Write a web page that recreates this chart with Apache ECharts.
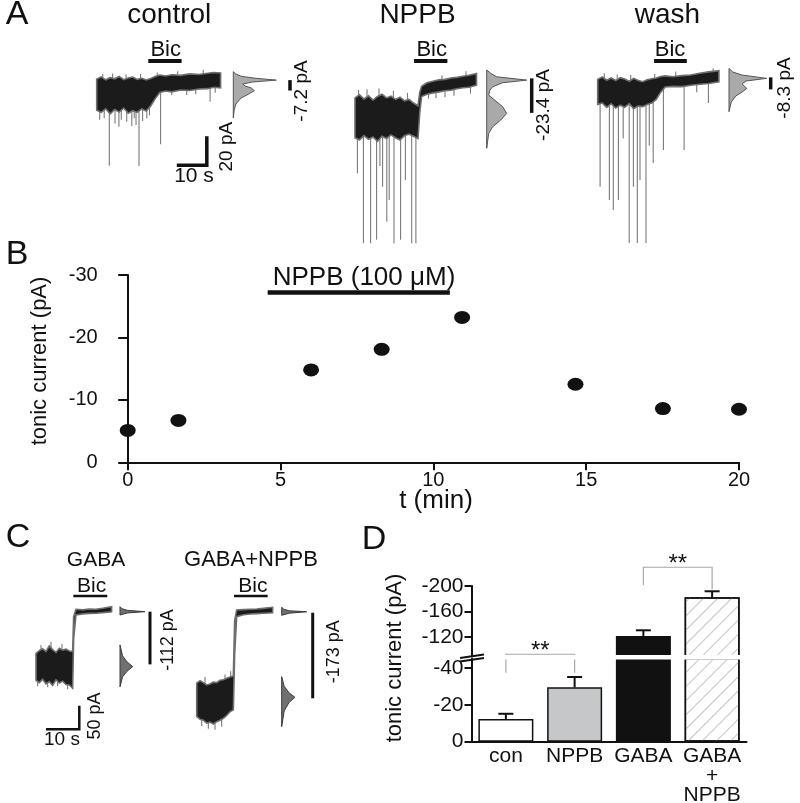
<!DOCTYPE html>
<html>
<head>
<meta charset="utf-8">
<title>NPPB and tonic GABA current</title>
<script src="https://cdn.jsdelivr.net/npm/echarts@6/dist/echarts.min.js"></script>
<style>
  html, body { margin: 0; padding: 0; background: #fff; }
  #main { width: 800px; height: 803px; }
</style>
</head>
<body>
<div id="main"></div>
<script>
// ---------- data ----------
// A: example traces (t in s, current in pA, 0 = level in Bic)
var ctlT   = [0, 1.5, 3, 4.5, 6, 7.5, 9, 10.5, 12, 13.5, 15, 16.5, 18, 19.5, 21, 23, 25, 28, 31, 34, 37, 39, 41.3];
var ctlTop = [1.0, 2.5, 0.5, 2.0, 1.2, 2.8, 0.6, 1.8, 2.4, 0.8, 1.6, 0.4, 1.5, 2.8, 3.8, 3.2, 4.0, 3.6, 4.6, 4.2, 5.0, 5.6, 5.2];
var ctlBot = [-20.5, -22.0, -19.5, -23.0, -20.0, -21.8, -19.0, -22.5, -20.8, -22.0, -19.6, -21.0, -17.5, -12.5, -8.2, -7.2, -7.8, -6.5, -6.9, -5.8, -5.6, -4.6, -5.0];
var ctlSpikes = [[1.0, -27], [2.5, -26], [4.2, -58.8], [6.1, -29.6], [7.4, -31.9], [8.2, -27], [10, -28.4], [11.7, -31.4],
                 [12.5, -26], [13.1, -30.7], [14.1, -59], [15.3, -28], [16.7, -26.1], [17.6, -24], [21.3, -43.9],
                 [25, -10], [30, -10], [33, -9.5], [37.8, -14.6], [39.5, -8.5],
                 [2.0, 4.5], [5.3, 4.8], [9.8, 4.2], [14.6, 4.6], [20.2, 5.5], [27, 6.5], [35.5, 7.5]];
var ctlHist = [[6.1, 0], [4.5, 6], [2.8, 20], [1.5, 55], [0.3, 100], [-1.0, 45], [-2.4, 22], [-3.8, 28], [-5.2, 42],
               [-7.0, 49], [-9.3, 36], [-12.1, 18], [-16.2, 6], [-20.4, 2], [-25.9, 0]];

var nppT   = [0, 1.5, 3, 4.5, 6, 7.5, 9, 10.5, 12, 13.5, 15, 16.5, 18, 19.5, 21, 21.6, 22.2, 24, 26, 28, 30, 32, 34, 36, 38, 40.5];
var nppTop = [-12.0, -9.8, -12.8, -10.5, -13.5, -11.0, -9.5, -12.0, -10.8, -13.0, -11.5, -14.0, -13.0, -15.5, -17.5, -8.0, -4.0, -1.5, -0.5, 0.5, 0.8, 1.8, 2.2, 3.0, 3.6, 4.8];
var nppBot = [-39.5, -41.0, -38.0, -40.5, -39.0, -42.0, -38.5, -40.0, -37.5, -39.5, -41.0, -38.0, -37.0, -38.5, -40.0, -22.0, -11.0, -9.5, -8.5, -7.8, -7.0, -6.6, -5.6, -5.0, -4.6, -3.2];
var nppSpikes = [[0.8, -64], [2.8, -112.4], [5.2, -112.4], [7.2, -110], [8.3, -59], [9.2, -73.3], [10.6, -97.5],
                 [11.4, -82.5], [13, -112.4], [15.2, -110], [16.8, -68.7], [18.9, -112.4], [20.3, -112.4],
                 [24.5, -12.5], [27, -12], [30, -11.5], [33, -10.5], [38.5, -9],
                 [1.2, -6.5], [4.0, -6.0], [8.0, -5.5], [12.8, -7.0], [17.5, -8.5], [29, 3.5], [37, 6.5]];
var nppHist = [[7.3, 0], [5.0, 10], [2.6, 25], [0.3, 100], [-1.5, 40], [-4.3, 15], [-6.6, 8], [-10.0, 5], [-13.5, 20],
               [-18.1, 40], [-22.7, 50], [-27.3, 35], [-31.9, 15], [-36.5, 5], [-46.8, 0]];

var washT   = [0, 1.5, 3, 4.5, 6, 7.5, 9, 10.5, 12, 13.5, 15, 16.5, 18, 19.5, 21, 22.5, 25, 28, 31, 34, 37, 40.4];
var washTop = [0.8, 2.5, 0.2, 1.8, 0.0, 2.0, 1.0, -0.5, 1.5, 0.0, -0.8, 0.6, 1.2, 1.8, 2.8, 3.2, 2.6, 3.4, 3.8, 5.0, 6.0, 6.8];
var washBot = [-16.5, -15.5, -18.5, -16.0, -19.0, -17.0, -18.5, -16.0, -19.5, -17.5, -18.0, -16.5, -15.5, -13.0, -8.0, -4.5, -4.0, -4.2, -3.2, -2.5, -2.0, -0.8];
var washSpikes = [[0.8, -73.3], [3.9, -82.5], [5.2, -89.4], [6.9, -82.5], [8.5, -40], [10.5, -112.2], [11.9, -73.3],
                  [13.2, -112.2], [14.1, -68.7], [16.1, -112.2], [17.2, -45], [18.5, -57], [21.9, -48], [28.8, -48],
                  [33, -8], [36.9, -15.5],
                  [2.2, 5.0], [6.5, 4.2], [11, 3.8], [19, 4.6], [26, 6.2], [38.5, 8.5]];
var washHist = [[8.4, 0], [5.9, 10], [3.8, 35], [1.5, 100], [-0.3, 45], [-2.4, 35], [-5.4, 47], [-7.9, 35],
                [-10.7, 18], [-14.8, 6], [-21.5, 0]];

// amplitude marks next to the histograms (pA)
var ctlShift = [0.3, -6.9];
var nppShift = [1.5, -22.3];
var washShift = [2.2, -6.1];

// C: GABA traces
var gabT   = [0, 1, 2, 3, 4, 5, 6, 7, 8, 9, 10, 11, 11.3, 12, 14, 16, 18, 20, 22.7];
var gabTop = [-90, -84, -80, -86, -74, -82, -88, -79, -83, -81, -85, -86, -12, 3.7, 2.5, 4.5, 4.0, 6.0, 9.3];
var gabBot = [-147, -152, -145, -155, -150, -158, -146, -153, -149, -156, -157, -164, -60, -8.4, -6.0, -5.0, -4.5, -3.4, -1.3];
var gabSpikes = [[0.5, -160], [3.5, -162], [6.5, -160], [9.5, -166], [1.5, -72], [4.5, -66], [7.8, -70]];
var gabHistHi = [[9.3, 0], [5, 8], [1.5, 30], [-1.3, 100], [-4, 30], [-8.4, 0]];
var gabHistLo = [[-72, 0], [-95, 10], [-108, 28], [-118, 51], [-128, 28], [-140, 10], [-161, 0]];
var gabShift = [-1.3, -113.3];

var gnT   = [0, 1, 2, 3, 4, 5, 6, 7, 8, 9, 10, 11, 11.4, 12, 14, 16, 18, 20, 22.8];
var gnTop = [-153, -148, -152, -157, -155, -151, -152, -147, -146, -143, -140, -138, -20, 2.2, 3.0, 3.7, 4.5, 5.8, 8.0];
var gnBot = [-224, -230, -232, -238, -236, -240, -235, -232, -228, -222, -214, -210, -90, -12, -8.0, -6.3, -5.5, -4.8, -3.5];
var gnSpikes = [[1.5, -245], [3.5, -250], [5.5, -252], [7.5, -246], [2.5, -140], [8.5, -135], [10.2, -128]];
var gnHistHi = [[8, 0], [4, 8], [0.5, 30], [-1.5, 100], [-4.5, 30], [-9, 0]];
var gnHistLo = [[-139.5, 0], [-160, 10], [-174, 30], [-183.3, 53], [-194, 30], [-212, 10], [-245.7, 0]];
var gnShift = [-3.5, -185.4];

// B: tonic current vs time
var timeMin = [0, 1.66, 6, 8.31, 10.94, 14.65, 17.51, 20];
var tonicPA = [-5.1, -6.7, -14.8, -18.1, -23.2, -12.5, -8.6, -8.5];
var nppbOn = [4.58, 10.54];

// D: group means and SEM
var groups = ['con', 'NPPB', 'GABA', 'GABA\n+\nNPPB'];
var meanPA = [-12.3, -29.4, -121.4, -182.3];
var semPA  = [2.8, 5.6, 9.0, 9.4];
var lowTicks = [0, -20, -40];
var highTicks = [-120, -160, -200];

// ---------- helpers ----------
var FONT = '"Liberation Sans", Arial, Helvetica, sans-serif';
var INK = '#111';
var grids = [], xAxes = [], yAxes = [], series = [];

function addGrid(g, x, y) {
  g.outerBoundsMode = 'none';
  g.containLabel = false;
  grids.push(g);
  var i = grids.length - 1;
  x.gridIndex = i; y.gridIndex = i;
  xAxes.push(x); yAxes.push(y);
  return i;
}
function hidden(min, max) { return { type: 'value', min: min, max: max, show: false }; }

function bandSeries(gi, T, top, bot) {
  return {
    type: 'custom', xAxisIndex: gi, yAxisIndex: gi, silent: true, clip: false, z: 3,
    data: T.map(function (t, i) { return [t, top[i], bot[i]]; }),
    renderItem: function (params, api) {
      if (params.dataIndex !== 0) return null;
      var pts = [];
      for (var i = 0; i < T.length; i++) pts.push(api.coord([T[i], top[i]]));
      for (var j = T.length - 1; j >= 0; j--) pts.push(api.coord([T[j], bot[j]]));
      return { type: 'polygon', shape: { points: pts }, style: { fill: '#1b1b1b', stroke: '#6e6e6e', lineWidth: 1.6 } };
    }
  };
}

function spikeSeries(gi, T, top, bot, spikes) {
  return {
    type: 'custom', xAxisIndex: gi, yAxisIndex: gi, silent: true, clip: false, z: 2,
    data: spikes,
    renderItem: function (params, api) {
      var t = api.value(0), d = api.value(1);
      var k = 0;
      for (var i = 1; i < T.length; i++) if (Math.abs(T[i] - t) < Math.abs(T[k] - t)) k = i;
      var a = api.coord([t, (top[k] + bot[k]) / 2]), b = api.coord([t, d]);
      return { type: 'line', shape: { x1: a[0], y1: a[1], x2: b[0], y2: b[1] }, style: { stroke: '#7a7a7a', lineWidth: 1.1 } };
    }
  };
}

function histSeries(gi, pts, fill, stroke) {
  return {
    type: 'custom', xAxisIndex: gi, yAxisIndex: gi, silent: true, clip: false, z: 3,
    data: pts.map(function (p) { return [p[1], p[0]]; }),
    renderItem: function (params, api) {
      if (params.dataIndex !== 0) return null;
      var poly = [api.coord([0, pts[0][0]])];
      pts.forEach(function (p) { poly.push(api.coord([p[1], p[0]])); });
      poly.push(api.coord([0, pts[pts.length - 1][0]]));
      return { type: 'polygon', shape: { points: poly }, style: { fill: fill, stroke: stroke, lineWidth: 1 } };
    }
  };
}

// vertical amplitude mark, dx px right of the histogram base
function shiftSeries(gi, range, dx, w) {
  return {
    type: 'custom', xAxisIndex: gi, yAxisIndex: gi, silent: true, clip: false, z: 3,
    data: [[0, range[0], range[1]]],
    renderItem: function (params, api) {
      var a = api.coord([0, api.value(1)]), b = api.coord([0, api.value(2)]);
      return { type: 'line', shape: { x1: a[0] + dx, y1: a[1], x2: a[0] + dx, y2: b[1] }, style: { stroke: INK, lineWidth: w } };
    }
  };
}

// horizontal bar (drug application)
function hBarSeries(gi, t0, t1, y, w) {
  return {
    type: 'custom', xAxisIndex: gi, yAxisIndex: gi, silent: true, clip: false, z: 3,
    data: [[t0, y, t1]],
    renderItem: function (params, api) {
      var a = api.coord([api.value(0), api.value(1)]), b = api.coord([api.value(2), api.value(1)]);
      return { type: 'line', shape: { x1: a[0], y1: a[1], x2: b[0], y2: b[1] }, style: { stroke: INK, lineWidth: w } };
    }
  };
}

// L-shaped scale bar
function scaleBarSeries(gi, t0, y0, dt, dy, w) {
  return {
    type: 'custom', xAxisIndex: gi, yAxisIndex: gi, silent: true, clip: false, z: 3,
    data: [[t0, y0, dt, dy]],
    renderItem: function (params, api) {
      var t = api.value(0), y = api.value(1), dT = api.value(2), dY = api.value(3);
      var p0 = api.coord([t, y]), p1 = api.coord([t + dT, y]), p2 = api.coord([t + dT, y + dY]);
      return { type: 'polyline', shape: { points: [p0, p1, p2] }, style: { stroke: INK, lineWidth: w, fill: null } };
    }
  };
}

function traceBlock(tg, hg, T, top, bot, spikes, hists, shift, dx, bic, bicY, style) {
  series.push(spikeSeries(tg, T, top, bot, spikes));
  series.push(bandSeries(tg, T, top, bot));
  hists.forEach(function (h) { series.push(histSeries(hg, h, style.histFill, style.histStroke)); });
  series.push(shiftSeries(hg, shift, dx, style.markW));
  series.push(hBarSeries(tg, bic[0], bic[1], bicY, style.bicW));
}

// ---------- grids ----------
var styleA = { histFill: '#a9a9a9', histStroke: '#555', markW: 3.5, bicW: 4 };
var styleC = { histFill: '#707070', histStroke: '#3a3a3a', markW: 3, bicW: 2.5 };

var gA = { top: 40, height: 210 };
var gCtl = addGrid({ left: 96.7, width: 124, top: gA.top, height: gA.height }, hidden(0, 41.33), hidden(-117, 28));
var hCtl = addGrid({ left: 233.3, width: 43, top: gA.top, height: gA.height }, hidden(0, 100), hidden(-117, 28));
var gNpp = addGrid({ left: 355, width: 121.7, top: gA.top, height: gA.height }, hidden(0, 40.57), hidden(-117, 28));
var hNpp = addGrid({ left: 486.7, width: 40, top: gA.top, height: gA.height }, hidden(0, 100), hidden(-117, 28));
var gWash = addGrid({ left: 597.7, width: 121.3, top: gA.top, height: gA.height }, hidden(0, 40.43), hidden(-117, 28));
var hWash = addGrid({ left: 729, width: 37.7, top: gA.top, height: gA.height }, hidden(0, 100), hidden(-117, 28));

traceBlock(gCtl, hCtl, ctlT, ctlTop, ctlBot, ctlSpikes, [ctlHist], ctlShift, 56.7, [17.2, 28.3], 13.5, styleA);
traceBlock(gNpp, hNpp, nppT, nppTop, nppBot, nppSpikes, [nppHist], nppShift, 45, [19.7, 30.8], 13.5, styleA);
traceBlock(gWash, hWash, washT, washTop, washBot, washSpikes, [washHist], washShift, 41.7, [18.8, 29.7], 13.5, styleA);
series.push(scaleBarSeries(gCtl, 26.7, -58.4, 10, 20, 3.5));

// B
var axisLineB = { show: true, lineStyle: { color: INK, width: 2 } };
var gB = addGrid({ left: 127.7, width: 611.3, top: 275, height: 187.3 },
  { type: 'value', min: 0, max: 20, interval: 5, axisLine: axisLineB,
    axisTick: { show: true, length: 8, lineStyle: { color: INK, width: 2 } },
    axisLabel: { color: INK, fontSize: 20, fontFamily: FONT, margin: 8 }, splitLine: { show: false } },
  { type: 'value', min: -30, max: 0, interval: 10, inverse: true, offset: 15, axisLine: axisLineB,
    axisTick: { show: true, length: 9.5, lineStyle: { color: INK, width: 2 } },
    axisLabel: { color: INK, fontSize: 20, fontFamily: FONT, margin: 15 }, splitLine: { show: false } });
series.push({
  type: 'scatter', xAxisIndex: gB, yAxisIndex: gB, silent: true, z: 3,
  data: timeMin.map(function (t, i) { return [t, tonicPA[i]]; }),
  symbol: 'circle', symbolSize: [16, 13], itemStyle: { color: INK, opacity: 1 }
});
series.push(hBarSeries(gB, nppbOn[0], nppbOn[1], -27.2, 4.5));

// C
var gC = { top: 580, height: 160 };
var gGab = addGrid({ left: 36, width: 75.7, top: gC.top, height: gC.height }, hidden(0, 22.73), hidden(-274, 66));
var hGab = addGrid({ left: 120, width: 25, top: gC.top, height: gC.height }, hidden(0, 100), hidden(-274, 66));
var gGn = addGrid({ left: 196.7, width: 76, top: gC.top, height: gC.height }, hidden(0, 22.82), hidden(-274, 66));
var hGn = addGrid({ left: 281.7, width: 25, top: gC.top, height: gC.height }, hidden(0, 100), hidden(-274, 66));

traceBlock(gGab, hGab, gabT, gabTop, gabBot, gabSpikes, [gabHistHi, gabHistLo], gabShift, 30, [11.2, 21.4], 32, styleC);
traceBlock(gGn, hGn, gnT, gnTop, gnBot, gnSpikes, [gnHistHi, gnHistLo], gnShift, 31, [11.2, 21.3], 32, styleC);
series.push(scaleBarSeries(gGab, 3.0, -251.3, 10, 50, 2.5));

// D: broken axis -> two stacked grids
var axisLineD = { show: true, lineStyle: { color: INK, width: 2 } };
var tickD = { show: true, length: 7, lineStyle: { color: INK, width: 2 } };
var labD = { color: INK, fontSize: 21, fontFamily: FONT, margin: 8 };
var gHi = addGrid({ left: 471.5, width: 275, top: 586, height: 70 },
  { type: 'category', data: groups, show: false },
  { type: 'value', min: -200, max: -90, inverse: true, axisLine: axisLineD,
    axisTick: Object.assign({ customValues: highTicks }, tickD),
    axisLabel: Object.assign({ customValues: highTicks }, labD), splitLine: { show: false } });
var gLo = addGrid({ left: 471.5, width: 275, top: 658.5, height: 83.2 },
  { type: 'category', data: groups, axisLine: axisLineD, axisTick: { show: false },
    axisLabel: { color: INK, fontSize: 21, lineHeight: 19.5, fontFamily: FONT, margin: 5, interval: 0 } },
  { type: 'value', min: -45, max: 0, inverse: true, axisLine: axisLineD,
    axisTick: Object.assign({ customValues: lowTicks }, tickD),
    axisLabel: Object.assign({ customValues: lowTicks }, labD), splitLine: { show: false } });

var barLook = [
  { color: '#ffffff' },
  { color: '#c6c7c9' },
  { color: '#111111' },
  { color: '#ffffff', decal: { symbol: 'rect', symbolSize: 1, dashArrayX: [1, 0], dashArrayY: [1, 9], rotation: -Math.PI / 4, color: '#c4c4c4' } }
];
[gHi, gLo].forEach(function (gi) {
  series.push({
    type: 'bar', xAxisIndex: gi, yAxisIndex: gi, barWidth: '80%', clip: true, silent: true, z: 2,
    data: meanPA.map(function (v, i) {
      return { value: v, itemStyle: Object.assign({ borderColor: INK, borderWidth: 1.5 }, barLook[i]) };
    })
  });
  var lim = gi === gLo ? -45 : -90;
  series.push({
    type: 'custom', xAxisIndex: gi, yAxisIndex: gi, silent: true, clip: false, z: 3,
    data: meanPA.map(function (m, i) { return [i, m, m - semPA[i]]; })
      .filter(function (d) { return gi === gLo ? d[1] > lim : d[1] <= lim; }),
    renderItem: function (params, api) {
      var a = api.coord([api.value(0), api.value(1)]), b = api.coord([api.value(0), api.value(2)]);
      return { type: 'group', children: [
        { type: 'line', shape: { x1: a[0], y1: a[1], x2: b[0], y2: b[1] }, style: { stroke: INK, lineWidth: 2 } },
        { type: 'line', shape: { x1: b[0] - 7.5, y1: b[1], x2: b[0] + 7.5, y2: b[1] }, style: { stroke: INK, lineWidth: 2 } }
      ] };
    }
  });
});

function bracketSeries(gi, pair, yTop, legs, text) {
  return {
    type: 'custom', xAxisIndex: gi, yAxisIndex: gi, silent: true, clip: false, z: 4,
    data: [[pair[0], yTop, pair[1], legs[0], legs[1]]],
    renderItem: function (params, api) {
      var a = api.coord([api.value(0), api.value(1)]), b = api.coord([api.value(2), api.value(1)]);
      var a2 = api.coord([api.value(0), api.value(3)]), b2 = api.coord([api.value(2), api.value(4)]);
      return { type: 'group', children: [
        { type: 'polyline', shape: { points: [a2, a, b, b2] }, style: { stroke: '#a8a8a8', lineWidth: 1.2, fill: null } },
        { type: 'text', x: (a[0] + b[0]) / 2, y: a[1] - 3,
          style: { text: text, font: '24px ' + FONT, fill: INK, align: 'center', verticalAlign: 'middle' } }
      ] };
    }
  };
}
series.push(bracketSeries(gLo, [0, 1], -47.3, [-37.3, -37.3], '**'));
series.push(bracketSeries(gHi, [2, 3], -229.5, [-201.6, -194.9], '**'));

// ---------- static text ----------
function txt(text, x, y, size, rot) {
  return { type: 'text', x: x, y: y, rotation: rot ? Math.PI / 2 : 0, z: 50, silent: true,
    style: { text: text, fill: INK, font: size + 'px ' + FONT, align: 'center', verticalAlign: 'middle' } };
}
var graphics = [
  txt('A', 17, 15, 34), txt('B', 17, 255, 34), txt('C', 18, 538, 34), txt('D', 374, 540, 34),
  txt('control', 169.3, 15, 28), txt('NPPB', 417.5, 15, 28), txt('wash', 667.5, 15, 28),
  txt('Bic', 165.7, 50, 22), txt('Bic', 431.7, 50, 22), txt('Bic', 670, 50, 22),
  txt('10 s', 194, 176, 21), txt('20 pA', 226.7, 146.7, 19, true),
  txt('-7.2 pA', 302, 91, 19, true), txt('-23.4 pA', 543.3, 105, 19, true), txt('-8.3 pA', 785, 88, 19, true),
  txt('NPPB (100 \u03bcM)', 364, 278, 26),
  txt('tonic current (pA)', 40, 361, 22, true), txt('t (min)', 436, 501, 26),
  txt('GABA', 96, 560, 21), txt('GABA+NPPB', 251, 560, 22),
  txt('Bic', 91.7, 586, 21), txt('Bic', 252.8, 586, 21),
  txt('-112 pA', 168.3, 640, 18, true), txt('-173 pA', 334, 651.7, 18, true),
  txt('10 s', 62, 740, 19), txt('50 pA', 95.5, 716, 18, true),
  txt('tonic current (pA)', 395, 658, 22, true),
  // axis break in D
  { type: 'rect', z: 55, silent: true, shape: { x: 473.5, y: 655, width: 274, height: 4.5 }, style: { fill: '#fff' } },
  { type: 'line', z: 60, silent: true, shape: { x1: 460, y1: 658, x2: 484, y2: 654.5 }, style: { stroke: INK, lineWidth: 2 } },
  { type: 'line', z: 60, silent: true, shape: { x1: 460, y1: 661.5, x2: 484, y2: 658 }, style: { stroke: INK, lineWidth: 2 } }
];

var chart = echarts.init(document.getElementById('main'), null, { renderer: 'canvas' });
chart.setOption({
  animation: false,
  backgroundColor: '#fff',
  grid: grids,
  xAxis: xAxes,
  yAxis: yAxes,
  series: series,
  graphic: graphics
});
</script>
</body>
</html>
